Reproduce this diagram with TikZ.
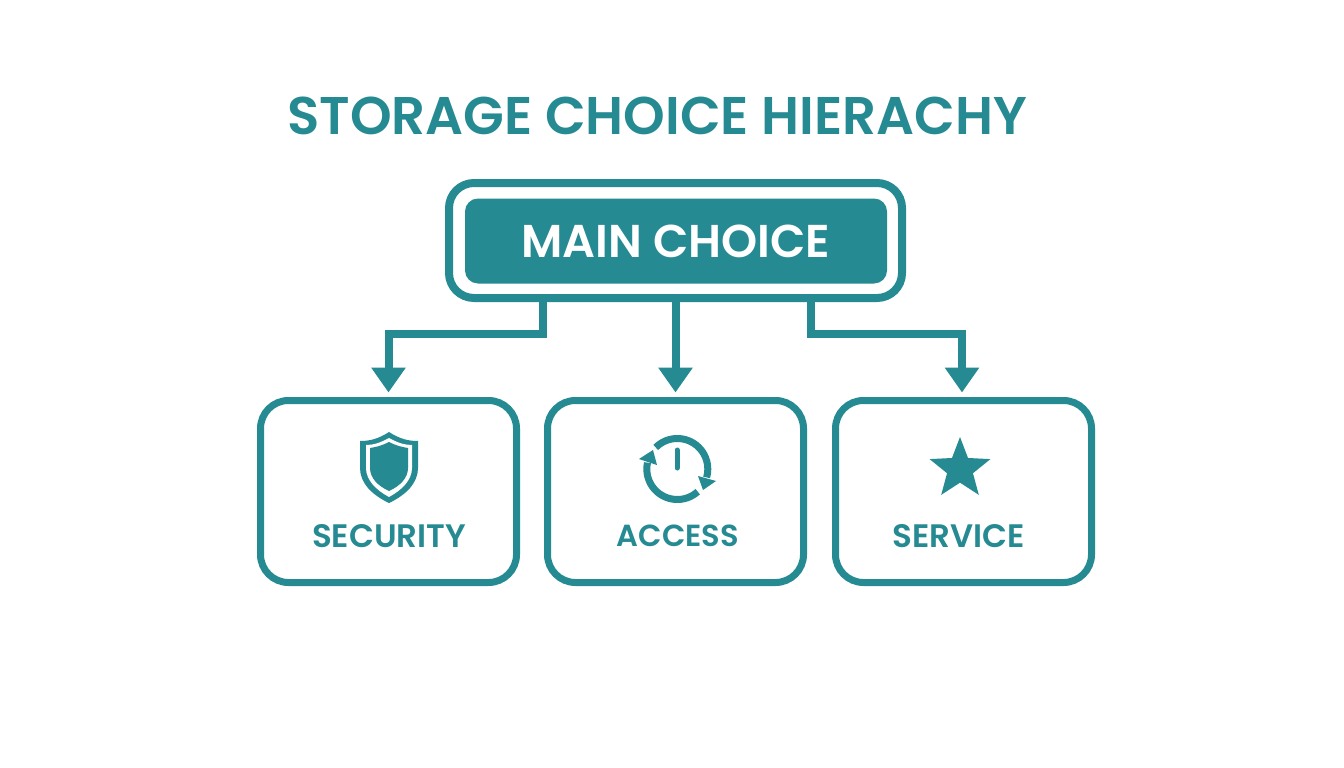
\documentclass[tikz,border=0pt]{standalone}
\usepackage{fontspec}
\setmainfont{Poppins SemiBold}
\usetikzlibrary{arrows.meta,shapes.geometric}
\definecolor{teal1}{HTML}{258A92}
\tikzset{
  card/.style={draw=teal1,line width=7pt,fill=white,rounded corners=28pt,minimum width=256pt,minimum height=182pt,outer sep=0pt,inner sep=0pt},
  conn/.style={draw=teal1,line width=8pt,line join=miter,-{Triangle[width=33pt,length=25pt]},shorten >=8pt},
  cardlabel/.style={text=teal1,font=\fontsize{#1}{34}\selectfont,inner sep=0pt},
}
\begin{document}
\begin{tikzpicture}[x=1pt,y=-1pt]
\useasboundingbox[fill=white] (0,0) rectangle (1344,768);
\node[text=teal1,font=\fontsize{53}{57}\selectfont,inner sep=0pt] (title) at (657,116) {STORAGE CHOICE HIERACHY};
\node[draw=teal1,line width=8pt,rounded corners=25pt,minimum width=453pt,minimum height=115pt,outer sep=0pt,inner sep=0pt] (main) at (675.5,240.5) {};
\node[fill=teal1,rounded corners=13pt,minimum width=422pt,minimum height=85pt,inner sep=0pt,outer sep=0pt,text=white,font=\fontsize{46}{50}\selectfont] (inner) at (676,241) {MAIN CHOICE};
\node[card] (sec) at (388.5,491.5) {};
\node[card] (acc) at (675.5,491.5) {};
\node[card] (ser) at (963.5,491.5) {};
\coordinate (jl) at (543,334);
\coordinate (jr) at (811,334);
\draw[conn] (main.south -| jl) -- (jl) -| (sec.north);
\draw[conn] (main.south) -- (acc.north);
\draw[conn] (main.south -| jr) -- (jr) -| ([xshift=-1.5pt]ser.north);
\node[cardlabel=32.5] (lsec) at (389,536) {SECURITY};
\node[cardlabel=30.5] (lacc) at (678,536) {ACCESS};
\node[cardlabel=32.5] (lser) at (958.5,536) {SERVICE};
% shield
\fill[teal1] (389,432) .. controls (378,439) and (370,441) .. (360,441) -- (360,468) .. controls (360,483) and (372,495) .. (389,503) .. controls (406,495) and (418,483) .. (418,468) -- (418,441) .. controls (408,441) and (400,439) .. (389,432) -- cycle;
\fill[white] (389,438) .. controls (380,443) and (373,445) .. (366,445) -- (366,468) .. controls (366,480) and (376,490) .. (389,497) .. controls (402,490) and (412,480) .. (412,468) -- (412,445) .. controls (405,445) and (398,443) .. (389,438) -- cycle;
\fill[teal1] (389,442) .. controls (381,446) and (376,447) .. (370,448) -- (370,468) .. controls (370,478) and (378,486) .. (389,491) .. controls (400,486) and (408,478) .. (408,468) -- (408,448) .. controls (402,447) and (397,446) .. (389,442) -- cycle;
% clock
\coordinate (cc) at (677.3,469);
\draw[teal1,line width=7pt] (cc) ++(-135:30.5) arc[start angle=-135,end angle=16,radius=30.5];
\draw[teal1,line width=7pt] (cc) ++(48:30.5) arc[start angle=48,end angle=192,radius=30.5];
\fill[teal1] (639,459) -- (653,450) -- (657,465) -- cycle;
\fill[teal1] (698,476) -- (716,481) -- (703,490) -- cycle;
\draw[teal1,line width=5pt,line cap=round] (677,450) -- (677,468);
% star
\node[star,star points=5,star point ratio=2.35,fill=teal1,minimum size=64pt,inner sep=0pt] (st) at (960,469) {};
\end{tikzpicture}
\end{document}
